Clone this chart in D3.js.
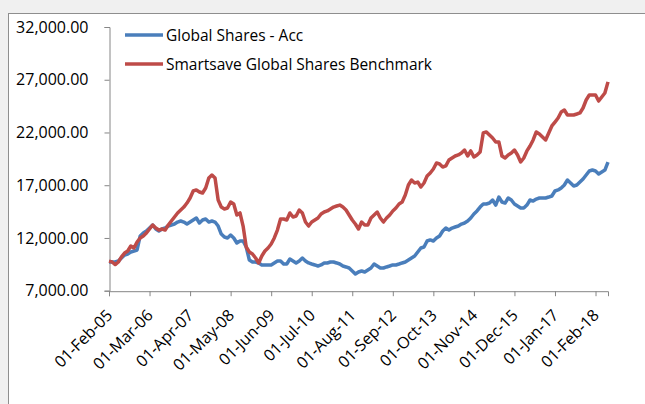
<!DOCTYPE html>
<html lang="en">

<head>
    <meta charset="UTF-8">
    <title>Global Shares vs Benchmark</title>
    <script src="https://d3js.org/d3.v7.min.js"></script>
    <style>
        body { margin: 0; background: #f0f0f0; }
        text { font-family: "Open Sans", sans-serif; }
    </style>
</head>

<body>
    <div id="chart"></div>
    <script>
        // monthly categories, Feb-05 .. Jun-18
        const months = d3.timeMonth.range(new Date(2005, 1, 1), new Date(2018, 6, 1));
        const fmt = d3.timeFormat('%d-%b-%y');
        const categories = months.map(fmt);

        // Excel shows every 13th category label
        const tickLabels = ['01-Feb-05', '01-Mar-06', '01-Apr-07', '01-May-08', '01-Jun-09', '01-Jul-10',
            '01-Aug-11', '01-Sep-12', '01-Oct-13', '01-Nov-14', '01-Dec-15', '01-Jan-17', '01-Feb-18'];
        const yTicks = [7000, 12000, 17000, 22000, 27000, 32000];

        const seriesNames = ['Global Shares - Acc', 'Smartsave Global Shares Benchmark'];

        const globalShares = [
            9720, 9720, 9720, 9820, 10100, 10380, 10480, 10670, 10760, 10860,
            12190, 12470, 12660, 12940, 13230, 12850, 12660, 12850, 12940, 13130,
            13230, 13320, 13510, 13610, 13510, 13320, 13510, 13700, 13890, 13420,
            13700, 13800, 13510, 13610, 13510, 13130, 12370, 12090, 12000, 12280,
            12000, 11520, 11710, 11710, 11140, 9910, 9720, 9720, 9630, 9440,
            9440, 9440, 9440, 9630, 9820, 9820, 9530, 9530, 10000, 9820,
            9630, 9820, 10100, 9820, 9630, 9530, 9440, 9340, 9440, 9630,
            9630, 9720, 9720, 9630, 9530, 9340, 9250, 9150, 8870, 8580,
            8770, 8870, 8770, 8960, 9150, 9530, 9340, 9150, 9150, 9250,
            9340, 9440, 9440, 9530, 9630, 9720, 9910, 10100, 10290, 10670,
            11050, 11140, 11710, 11810, 11710, 12000, 12190, 12660, 12940, 12750,
            12940, 13040, 13130, 13320, 13420, 13610, 13890, 14270, 14560, 14930,
            15220, 15220, 15310, 15600, 15120, 15880, 15410, 15310, 15790, 15600,
            15220, 15030, 14840, 14840, 15120, 15600, 15500, 15690, 15790, 15790,
            15790, 15880, 15980, 16450, 16550, 16740, 17020, 17490, 17210, 16930,
            17020, 17300, 17590, 17970, 18350, 18440, 18350, 18070, 18260, 18440,
            19200
        ];

        const benchmark = [
            9800, 9720, 9480, 9720, 10200, 10570, 10760, 11240, 11050, 11620,
            12000, 12190, 12470, 12850, 13230, 12940, 12750, 12850, 12750, 13230,
            13610, 13990, 14370, 14650, 14930, 15310, 15790, 16450, 16550, 16360,
            16260, 16740, 17680, 17970, 17680, 15600, 14930, 14750, 14840, 15410,
            15220, 14180, 14370, 13130, 11140, 10670, 10480, 10100, 9630, 10290,
            10760, 11050, 11430, 12000, 12750, 13800, 13800, 13700, 14370, 13990,
            14080, 14650, 14370, 13510, 13130, 13510, 13700, 13890, 14270, 14460,
            14560, 14750, 14930, 15030, 15120, 14930, 14650, 14180, 13700, 13320,
            12850, 13510, 13230, 13230, 13890, 14180, 14460, 13890, 13510, 13890,
            14180, 14560, 14840, 15220, 15410, 16070, 17020, 17490, 17210, 17300,
            16830, 17210, 17870, 18160, 18540, 19110, 19010, 18730, 18830, 19390,
            19580, 19770, 19870, 20050, 20340, 19770, 20250, 19680, 19870, 20150,
            21950, 22050, 21760, 21480, 21100, 21100, 19770, 19580, 19870, 20050,
            20340, 19870, 19200, 19580, 20250, 20720, 21290, 22050, 21860, 21570,
            21290, 21950, 22620, 22990, 23370, 23940, 24130, 23660, 23660, 23660,
            23750, 23850, 24320, 25080, 25550, 25550, 25550, 24980, 25360, 25740,
            26800
        ];

        const colors = ['#4a7ebb', '#be4b48'];

        const width = 645, height = 404;
        const svg = d3.select('#chart')
            .append('svg')
            .attr('width', width)
            .attr('height', height);

        // chart area (white, with grey frame)
        svg.append('rect')
            .attr('x', 8.5)
            .attr('y', 13.5)
            .attr('width', 700)
            .attr('height', 500)
            .attr('fill', '#ffffff')
            .attr('stroke', '#8e8e8e')
            .attr('stroke-width', 1);

        const x = d3.scalePoint()
            .domain(categories)
            .range([109, 608]);

        const y = d3.scaleLinear()
            .domain([7000, 32000])
            .range([290.7, 27]);

        // y axis
        const yAxis = svg.append('g')
            .attr('transform', 'translate(109.5,0)')
            .call(d3.axisLeft(y)
                .tickValues(yTicks)
                .tickSize(5)
                .tickPadding(16)
                .tickFormat(d3.format(',.2f')));

        // x axis
        const xAxis = svg.append('g')
            .attr('transform', 'translate(0,' + (y(7000) + 0.5) + ')')
            .call(d3.axisBottom(x)
                .tickValues(tickLabels)
                .tickSize(5));

        xAxis.selectAll('text')
            .attr('text-anchor', 'end')
            .attr('dy', null)
            .attr('y', 0)
            .attr('transform', 'translate(4,25) rotate(-45)');

        [xAxis, yAxis].forEach(g => {
            g.selectAll('.domain').attr('stroke', '#868686');
            g.selectAll('.tick line').attr('stroke', '#868686');
            g.selectAll('text')
                .attr('fill', '#000')
                .attr('font-size', '16px')
                .attr('font-family', '"Open Sans", sans-serif');
        });

        // lines
        const line = d3.line()
            .x((d, i) => x(categories[i]))
            .y(d => y(d));

        [globalShares, benchmark].forEach((s, k) => {
            svg.append('path')
                .datum(s)
                .attr('fill', 'none')
                .attr('stroke', colors[k])
                .attr('stroke-width', 3.5)
                .attr('stroke-linejoin', 'round')
                .attr('d', line);
        });

        // legend
        const legend = svg.selectAll('.legend')
            .data(seriesNames)
            .enter()
            .append('g')
            .attr('class', 'legend')
            .attr('transform', (d, i) => 'translate(125,' + (35 + i * 29) + ')');

        legend.append('line')
            .attr('x1', 0)
            .attr('x2', 38)
            .attr('stroke', (d, i) => colors[i])
            .attr('stroke-width', 3.5);

        legend.append('text')
            .attr('x', 41)
            .attr('y', 5.5)
            .attr('font-size', '15.5px')
            .attr('fill', '#000')
            .text(d => d);
    </script>
</body>

</html>
